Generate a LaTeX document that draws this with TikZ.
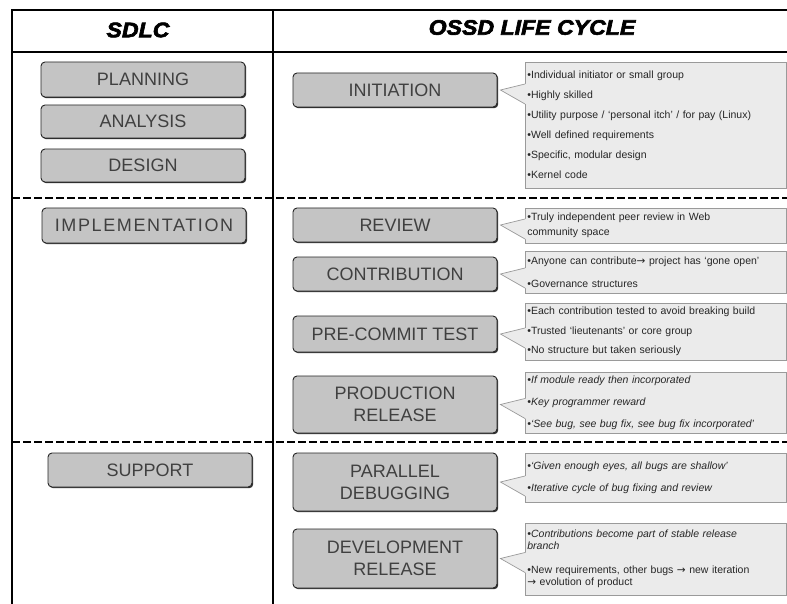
\documentclass[tikz,border=0pt]{standalone}
\usepackage{fontspec}
\setmainfont{Liberation Sans}
\newfontfamily\hdr{Liberation Sans}[BoldItalicFeatures={FakeBold=3,FakeStretch=1.1}]
\newfontfamily\sym{DejaVu Sans}
\usetikzlibrary{shadows,calc}
\definecolor{boxfill}{HTML}{C4C4C4}
\definecolor{calfill}{HTML}{EBEBEB}
\definecolor{calline}{HTML}{9A9A9A}
\definecolor{boxtext}{HTML}{404040}
\tikzset{
  stage/.style={draw=black!85, line width=0.9pt, fill=boxfill, rounded corners=4pt,
    text=boxtext, font=\fontsize{18}{22}\selectfont, align=center,
    minimum width=204pt, inner sep=0pt,
    drop shadow={shadow xshift=1.2pt, shadow yshift=-1.2pt, fill=black, opacity=0.8}},
  callout/.style={draw=calline, line width=0.8pt, fill=calfill, text width=257pt,
    inner xsep=2pt, inner ysep=0pt, align=left, anchor=west,
    font=\fontsize{10.5}{12.5}\selectfont, text=black!85},
  pointerfill/.style={fill=calfill},
  pointerline/.style={draw=calline, line width=0.7pt},
  rule/.style={line width=1.8pt},
  divider/.style={line width=1.4pt, dash pattern=on 8pt off 3pt},
  heading/.style={font=\hdr\bfseries\itshape\fontsize{21}{24}\selectfont}
}
\begin{document}
\begin{tikzpicture}[x=1pt,y=-1pt]
\useasboundingbox[fill=white] (0,0) rectangle (787,604);
% table frame
\coordinate (tl) at (12,10);
\coordinate (tr) at (787,10);
\coordinate (hl) at (12,52);
\coordinate (hr) at (787,52);
\coordinate (bl) at (12,604);
\coordinate (ct) at (273,10);
\coordinate (cb) at (273,604);
\coordinate (d1l) at (12,198);
\coordinate (d1r) at (787,198);
\coordinate (d2l) at (12,442);
\coordinate (d2r) at (787,442);
\draw[rule] (tr) -- (tl) -- (bl);
\draw[rule] (hl) -- (hr);
\draw[rule] (ct) -- (cb);
\draw[divider] (d1l) -- (d1r);
\draw[divider] (d2l) -- (d2r);
% headings
\node[heading] (sdlc) at (138,30) {SDLC};
\node[heading] (ossd) at (532,27.5) {OSSD LIFE CYCLE};
% SDLC stages
\node[stage, minimum height=35pt] (plan) at (143,79.5) {PLANNING};
\node[stage, minimum height=33pt] (anal) at (143,121.5) {ANALYSIS};
\node[stage, minimum height=33pt] (desi) at (143,165.5) {DESIGN};
\node[stage, minimum height=35pt] (impl) at (144,225.5) {\addfontfeature{LetterSpace=9}IMPLEMENTATION};
\node[stage, minimum height=34pt] (supp) at (150,470) {SUPPORT};
% OSSD stages
\node[stage, minimum height=34pt] (init) at (395,90) {INITIATION};
\node[stage, minimum height=34pt] (revi) at (395,225) {REVIEW};
\node[stage, minimum height=34pt] (cont) at (395,274) {CONTRIBUTION};
\node[stage, minimum height=36pt] (prec) at (395,334) {PRE-COMMIT TEST};
\node[stage, minimum height=57pt] (prod) at (395,404.5) {PRODUCTION\\RELEASE};
\node[stage, minimum height=58pt] (para) at (395,482) {PARALLEL\\DEBUGGING};
\node[stage, minimum height=59pt] (deve) at (395,558.5) {DEVELOPMENT\\RELEASE};
% callouts
\node[callout, minimum height=126pt] (cinit) at (525,125) {%
•Individual initiator or small group\\[7.5pt]
•Highly skilled\\[7.5pt]
•Utility purpose / ‘personal itch’ / for pay (Linux)\\[7.5pt]
•Well defined requirements\\[7.5pt]
•Specific, modular design\\[7.5pt]
•Kernel code};
\node[callout, minimum height=35pt] (crevi) at (525,225.5) {%
•Truly independent peer review in Web\\[3pt]
community space};
\node[callout, minimum height=42pt] (ccont) at (525,272) {%
•Anyone can contribute{\sym→} project has ‘gone open’\\[11pt]
•Governance structures};
\node[callout, minimum height=57pt] (cprec) at (525,331.5) {%
•Each contribution tested to avoid breaking build\\[7pt]
•Trusted ‘lieutenants’ or core group\\[7pt]
•No structure but taken seriously};
\node[callout, minimum height=61pt] (cprod) at (525,402.5) {%
\itshape •If module ready then incorporated\\[9.5pt]
•Key programmer reward\\[9.5pt]
•‘See bug, see bug fix, see bug fix incorporated’};
\node[callout, minimum height=49pt] (cpara) at (525,477.5) {%
\itshape •‘Given enough eyes, all bugs are shallow’\\[9.5pt]
•Iterative cycle of bug fixing and review};
\node[callout, minimum height=72pt] (cdeve) at (525,559) {%
{\itshape •Contributions become part of stable release\\
branch}\\[11pt]
•New requirements, other bugs {\sym→} new iteration\\
{\sym→} evolution of product};
% pointers
\foreach \b/\c in {init/cinit, revi/crevi, cont/ccont, prec/cprec, prod/cprod, para/cpara, deve/cdeve}{
  \coordinate (\b tip) at ([xshift=3pt]\b.east);
  \coordinate (\b up) at ($(\c.west |- \b tip)+(0,-6)$);
  \coordinate (\b dn) at ($(\c.west |- \b tip)+(0,14)$);
  \fill[pointerfill] (\b up) -- (\b tip) -- (\b dn) -- ([xshift=1pt]\b dn) -- ([xshift=1pt]\b up) -- cycle;
  \draw[pointerline] (\b up) -- (\b tip) -- (\b dn);
}
\end{tikzpicture}
\end{document}
